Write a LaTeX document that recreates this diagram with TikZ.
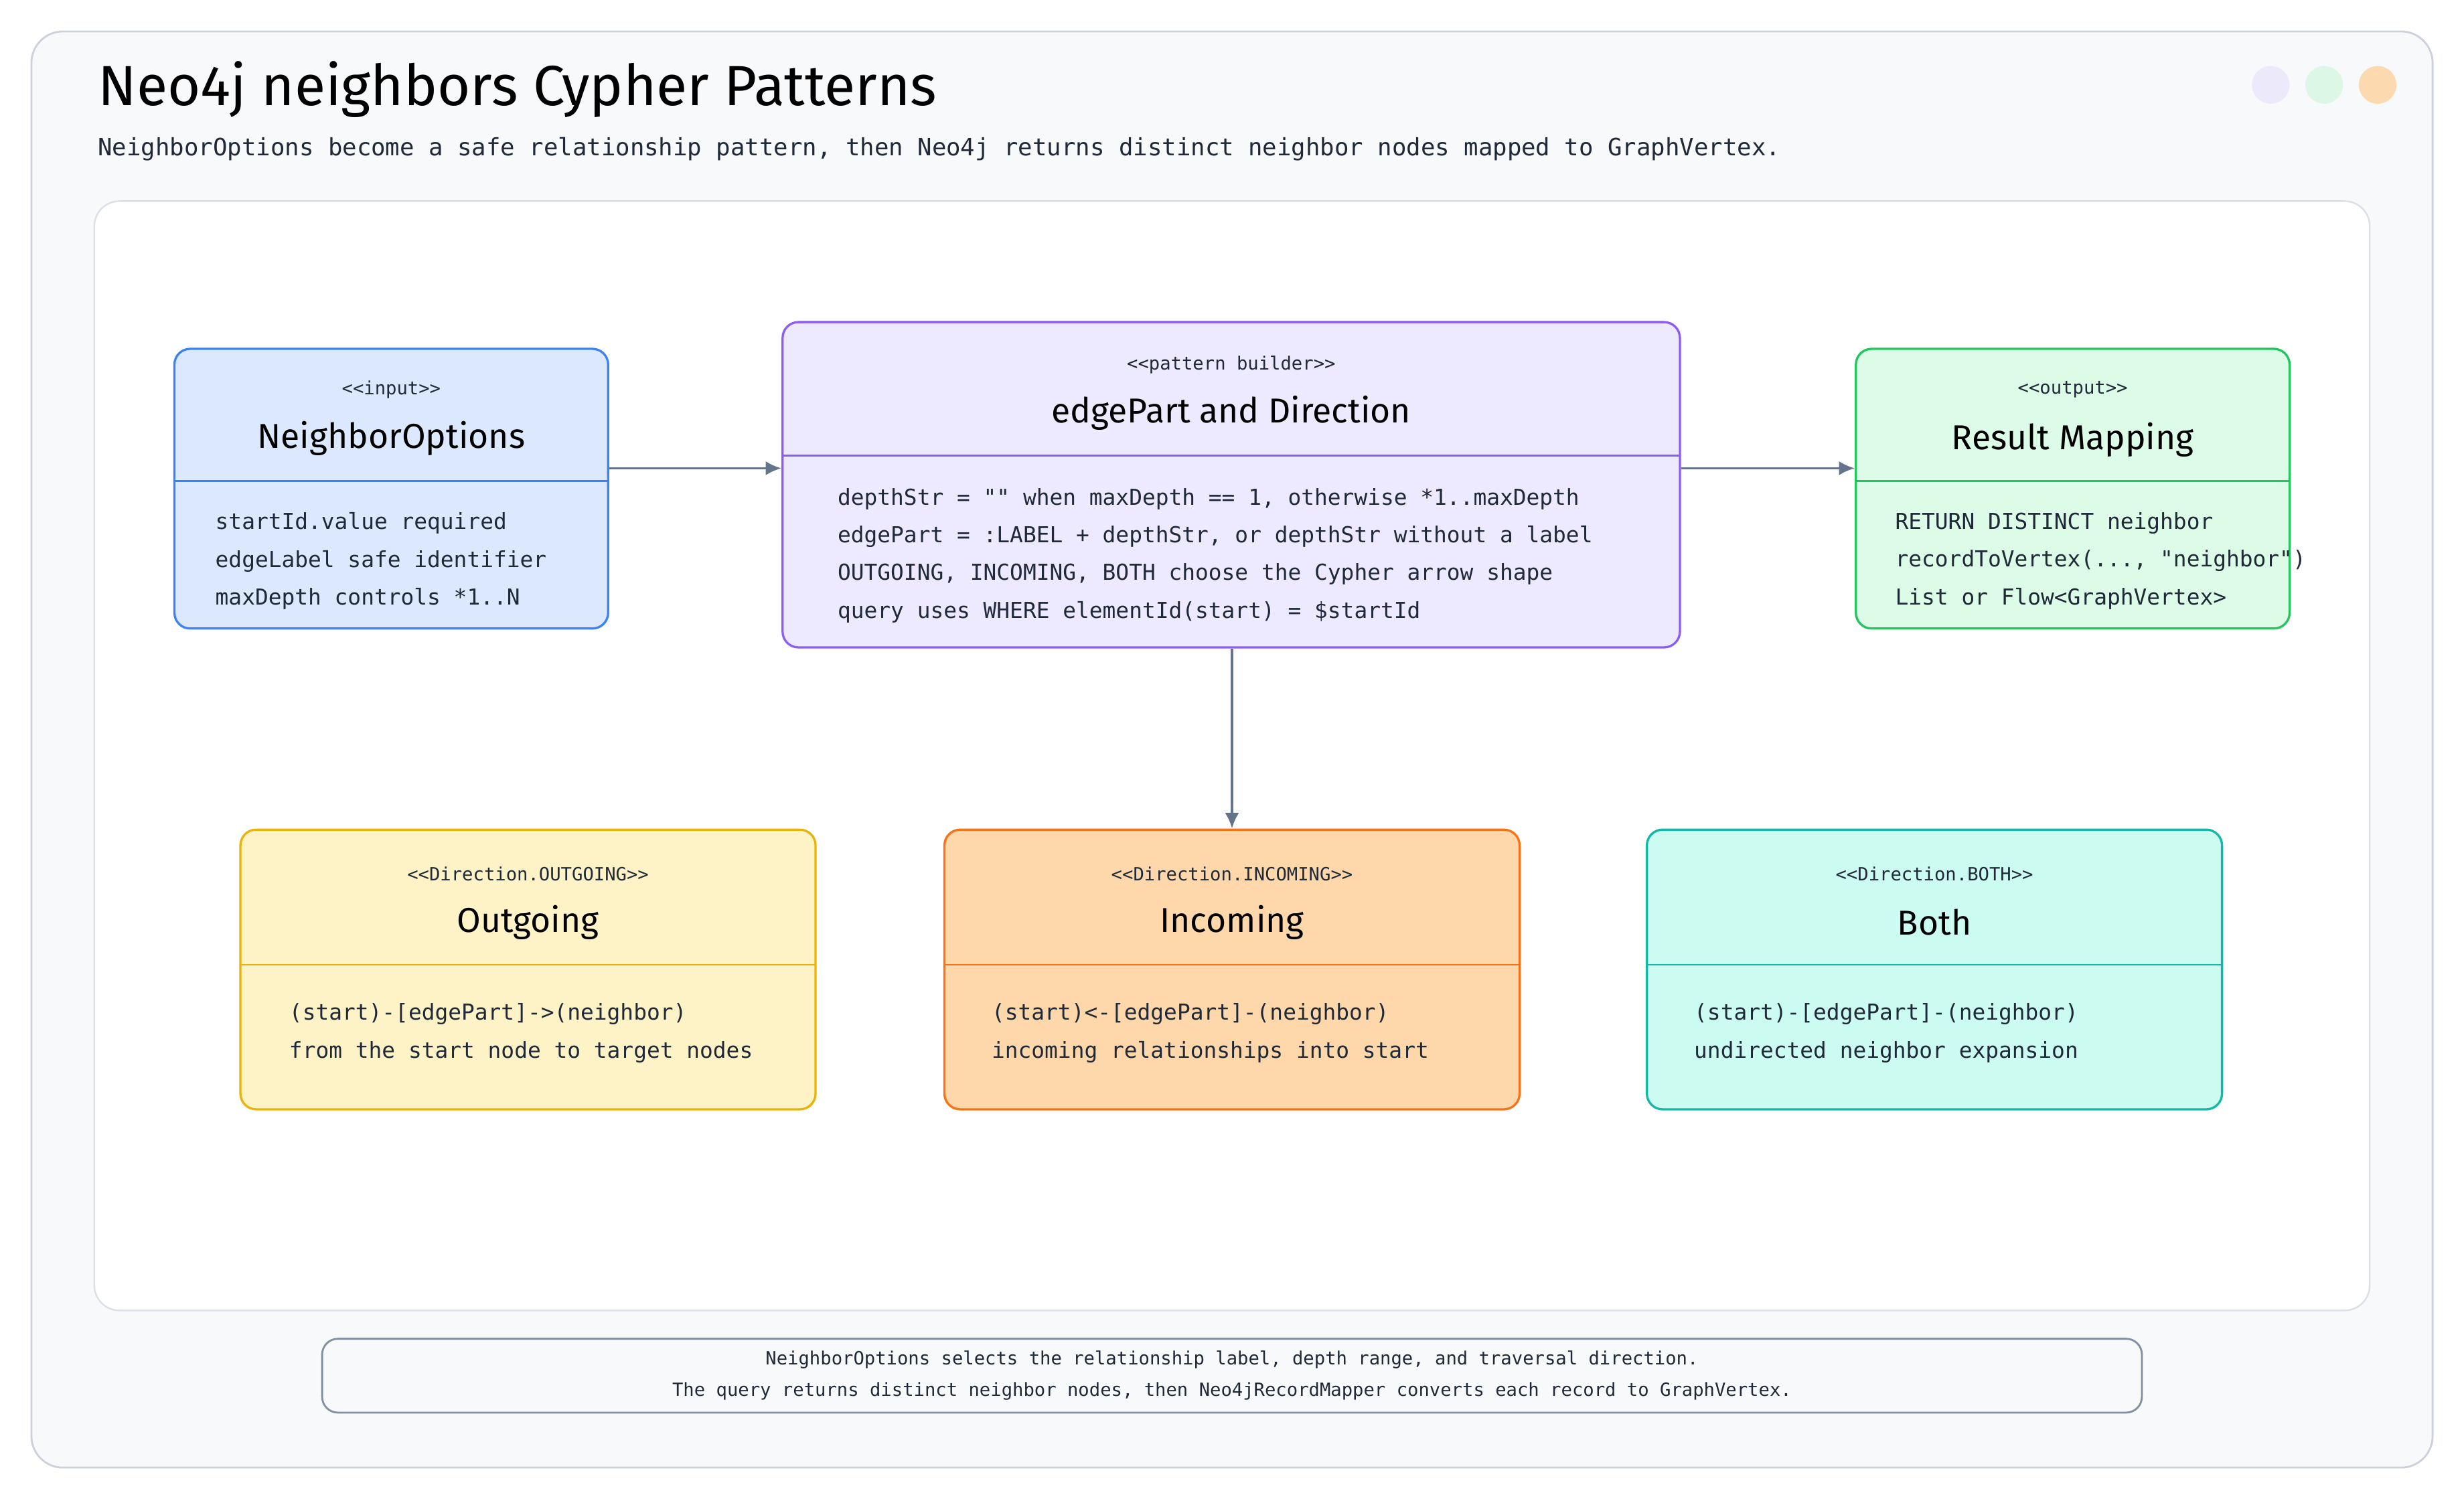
\documentclass[tikz,border=0pt]{standalone}
\usepackage{fontspec}
\setmainfont{Fira Sans}
\newfontfamily\codefont{DejaVu Sans Mono}
\usetikzlibrary{arrows.meta, positioning}
\definecolor{pagebg}{HTML}{F8F9FB}
\definecolor{frameline}{HTML}{CDD1DA}
\definecolor{inkdark}{HTML}{1F2937}
\definecolor{arrowgray}{HTML}{64748B}
\definecolor{inFill}{HTML}{DCE8FD}\definecolor{inLine}{HTML}{3B82F6}
\definecolor{patFill}{HTML}{EDE9FE}\definecolor{patLine}{HTML}{8B5CF6}
\definecolor{outFill}{HTML}{DCFCE7}\definecolor{outLine}{HTML}{22C55E}
\definecolor{ogFill}{HTML}{FEF3C7}\definecolor{ogLine}{HTML}{EAB308}
\definecolor{icFill}{HTML}{FED7AA}\definecolor{icLine}{HTML}{F97316}
\definecolor{btFill}{HTML}{CCFBF1}\definecolor{btLine}{HTML}{14B8A6}
\tikzset{
  card/.style={draw, rounded corners=5pt, line width=0.7pt},
  stereo/.style={font=\codefont\fontsize{5.8}{7}\selectfont, text=inkdark},
  cardtitle/.style={font=\fontsize{11}{13}\selectfont, text=black},
  body/.style={font=\codefont\fontsize{7}{12}\selectfont, text=inkdark, anchor=west, align=left},
  flow/.style={draw=arrowgray, line width=0.8pt, -{Latex[length=5pt,width=4.5pt]}}
}
\begin{document}
\begin{tikzpicture}[x=0.5pt,y=-0.5pt]
\useasboundingbox (0,0) rectangle (1568,954);
\fill[white] (0,0) rectangle (1568,954);
% frame and panel
\draw[fill=pagebg, draw=frameline, rounded corners=10pt, line width=0.6pt] (20,20) rectangle (1548,934);
\draw[fill=white, draw=frameline!70, rounded corners=8pt, line width=0.5pt] (60,128) rectangle (1508,834);
\node[anchor=west, inner sep=0pt, font=\fontsize{18}{20}\selectfont, text=black] (title) at (62,57) {Neo4j neighbors Cypher Patterns};
\node[anchor=west, inner sep=0pt, font=\codefont\fontsize{7.6}{10}\selectfont, text=inkdark] (subtitle) at (62,95) {NeighborOptions become a safe relationship pattern, then Neo4j returns distinct neighbor nodes mapped to GraphVertex.};
\fill[fill={rgb,255:red,236;green,233;blue,251}] (1445,54) circle (12);
\fill[fill={rgb,255:red,220;green,247;blue,230}] (1479,54) circle (12);
\fill[fill={rgb,255:red,253;green,217;blue,176}] (1513,54) circle (12);

% input
\node[card, fill=inFill, draw=inLine, minimum width=138pt, minimum height=89pt] (input) at (249,311) {};
\draw[inLine, line width=0.6pt] (111,306) -- (387,306);
\node[stereo] at (249,248) {<<input>>};
\node[cardtitle] at (249,279) {NeighborOptions};
\node[body] at (130,357) {startId.value required\\edgeLabel safe identifier\\maxDepth controls *1..N};

% pattern builder
\node[card, fill=patFill, draw=patLine, minimum width=285.5pt, minimum height=103.5pt] (pattern) at (783.5,308.5) {};
\draw[patLine, line width=0.6pt] (498,290) -- (1069,290);
\node[stereo] at (783.5,232) {<<pattern builder>>};
\node[cardtitle] at (783.5,263) {edgePart and Direction};
\node[body] at (526,353.5) {depthStr = "" when maxDepth == 1, otherwise *1..maxDepth\\edgePart = :LABEL + depthStr, or depthStr without a label\\OUTGOING, INCOMING, BOTH choose the Cypher arrow shape\\query uses WHERE elementId(start) = \$startId};

% output
\node[card, fill=outFill, draw=outLine, minimum width=138pt, minimum height=89pt] (output) at (1319,311) {};
\draw[outLine, line width=0.6pt] (1181,306) -- (1457,306);
\node[stereo] at (1319,248) {<<output>>};
\node[cardtitle] at (1319,280) {Result Mapping};
\node[body] at (1199,357) {RETURN DISTINCT neighbor\\recordToVertex(..., "neighbor")\\List or Flow<GraphVertex>};

% directions
\node[card, fill=ogFill, draw=ogLine, minimum width=183pt, minimum height=89pt] (outgoing) at (336,617) {};
\draw[ogLine, line width=0.6pt] (153,614) -- (519,614);
\node[stereo] at (336,556) {<<Direction.OUTGOING>>};
\node[cardtitle] at (336,587) {Outgoing};
\node[body] at (177,657.5) {(start)-[edgePart]->(neighbor)\\from the start node to target nodes};

\node[card, fill=icFill, draw=icLine, minimum width=183pt, minimum height=89pt] (incoming) at (784,617) {};
\draw[icLine, line width=0.6pt] (601,614) -- (967,614);
\node[stereo] at (784,556) {<<Direction.INCOMING>>};
\node[cardtitle] at (784,587) {Incoming};
\node[body] at (624,657.5) {(start)<-[edgePart]-(neighbor)\\incoming relationships into start};

\node[card, fill=btFill, draw=btLine, minimum width=183pt, minimum height=89pt] (both) at (1231,617) {};
\draw[btLine, line width=0.6pt] (1048,614) -- (1414,614);
\node[stereo] at (1231,556) {<<Direction.BOTH>>};
\node[cardtitle] at (1231,587) {Both};
\node[body] at (1071,657.5) {(start)-[edgePart]-(neighbor)\\undirected neighbor expansion};

% connectors
\draw[flow] ([yshift=6.5pt]input.east) -- ([yshift=6.5pt]input.east -| pattern.west);
\draw[flow] ([yshift=6.5pt]output.west -| pattern.east) -- ([yshift=6.5pt]output.west);
\draw[flow] (pattern.south -| incoming.north) -- (incoming.north);

% note
\node[draw=arrowgray!80, fill=pagebg, rounded corners=5pt, line width=0.6pt, minimum width=579pt, minimum height=23.5pt, align=center, font=\codefont\fontsize{5.8}{10}\selectfont, text=inkdark] (note) at (784,875.5) {NeighborOptions selects the relationship label, depth range, and traversal direction.\\The query returns distinct neighbor nodes, then Neo4jRecordMapper converts each record to GraphVertex.};
\end{tikzpicture}
\end{document}
